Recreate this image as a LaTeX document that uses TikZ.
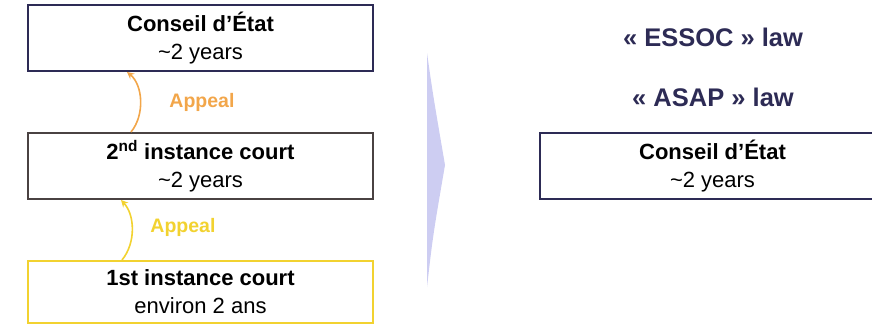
\documentclass[tikz,border=0pt]{standalone}
\usepackage{fontspec}
\setmainfont{Liberation Sans}
\usetikzlibrary{arrows.meta}
\definecolor{navy}{HTML}{2D2B55}
\definecolor{darkbrown}{HTML}{4A4242}
\definecolor{ylw}{HTML}{F2D230}
\definecolor{orng}{HTML}{F2A64A}
\definecolor{lav}{HTML}{CDCDF2}
\tikzset{
  court/.style={draw, line width=2pt, minimum width=345pt, minimum height=66pt, align=center, inner sep=0pt, font=\fontsize{22}{28}\selectfont, text=black},
  lawtext/.style={font=\fontsize{25.5}{30}\selectfont\bfseries, text=navy},
  appeallbl/.style={font=\fontsize{19.5}{23}\selectfont\bfseries},
  appealarrow/.style={line width=1.6pt, -{Stealth[length=7pt,width=7pt]}},
}
\begin{document}
\begin{tikzpicture}[x=1pt,y=1pt]
\useasboundingbox (0,0) rectangle (872,325);
% left column
\node[court, draw=navy] (ce) at (200.5,287) {\textbf{Conseil d’État}\\\textasciitilde 2 years};
\node[court, draw=darkbrown] (second) at (200.5,159) {\textbf{2\textsuperscript{nd} instance court}\\\textasciitilde 2 years};
\node[court, draw=ylw, minimum height=62pt] (first) at (200.5,33) {\textbf{1st instance court}\\environ 2 ans};
% appeal arrows
\draw[appealarrow, orng] ([xshift=104pt]second.north west) .. controls (145,210) and (143,240) .. ([xshift=100pt]ce.south west);
\node[appeallbl, text=orng] (ap1) at (202,223) {Appeal};
\draw[appealarrow, ylw] ([xshift=95pt]first.north west) .. controls (136,82) and (135,110) .. ([xshift=94pt]second.south west);
\node[appeallbl, text=ylw] (ap2) at (183,98) {Appeal};
% chevron
\fill[lav] (427,272) .. controls (433,230) .. (445,160) .. controls (433,90) .. (427,38) -- cycle;
% right column
\node[lawtext] (essoc) at (713,288) {« ESSOC » law};
\node[lawtext] (asap) at (713,228) {« ASAP » law};
\node[court, draw=navy] (ce2) at (712.5,159) {\textbf{Conseil d’État}\\\textasciitilde 2 years};
\end{tikzpicture}
\end{document}
